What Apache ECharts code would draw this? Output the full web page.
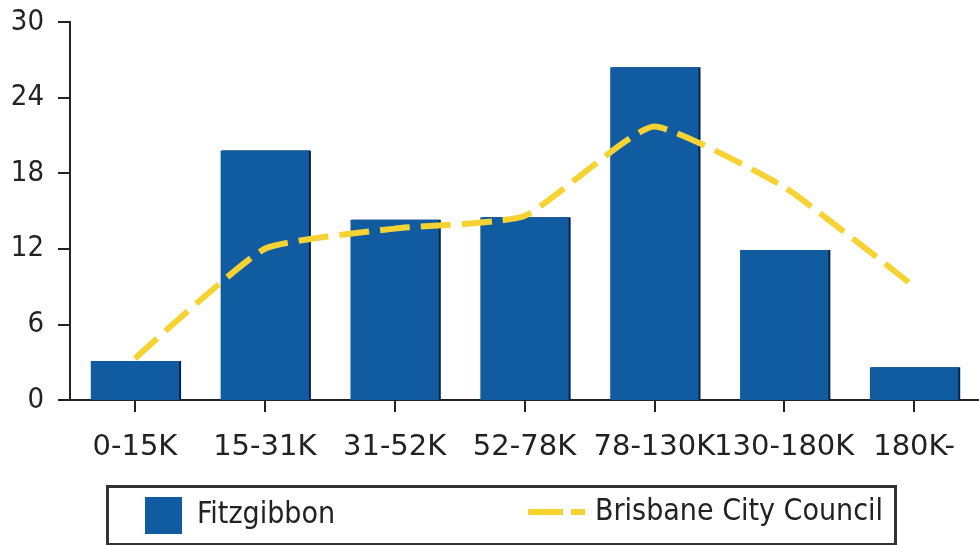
<!DOCTYPE html>
<html>
<head>
<meta charset="utf-8">
<script src="https://cdn.jsdelivr.net/npm/echarts@6/dist/echarts.min.js"></script>
<style>
  html, body { margin: 0; padding: 0; background: #fff; }
  #chart { width: 979px; height: 545px; }
</style>
</head>
<body>
<div id="chart"></div>
<script>
// income bands
const categories = ["0-15K", "15-31K", "31-52K", "52-78K", "78-130K", "130-180K", "180K-"];
// % of households
const fitzgibbon = [3.1, 19.8, 14.3, 14.5, 26.4, 11.9, 2.6];
const brisbane = [3.3, 12.0, 13.6, 14.6, 21.7, 16.9, 9.0];
const yTicks = [0, 6, 12, 18, 24, 30];

const font = "'DejaVu Sans Condensed', 'Liberation Sans Narrow', sans-serif";
const wideFont = "'DejaVu Sans', sans-serif";
const yellow = "#f6d333";

let myChart = echarts.init(document.getElementById("chart"));
let option = {
  animation: false,
  grid: {
    left: 70,
    right: -8,
    top: 22,
    bottom: 145,
    containLabel: false
  },
  legend: [
    {
      data: [{ name: "Fitzgibbon", icon: "rect" }],
      left: 145,
      top: 497,
      padding: 0,
      itemWidth: 37,
      itemHeight: 37,
      textStyle: { fontFamily: font, fontSize: 30, color: "#222", padding: [0, 0, 0, 10] }
    },
    {
      data: ["Brisbane City Council"],
      left: 525,
      top: 497,
      padding: 0,
      itemWidth: 57,
      itemHeight: 37,
      lineStyle: { color: yellow, width: 6, type: [35, 8] },
      itemStyle: { opacity: 0 },
      textStyle: { fontFamily: font, fontSize: 30, color: "#222", padding: [0, 0, 0, 5] }
    }
  ],
  graphic: [
    {
      type: "rect",
      left: 105,
      top: 484,
      shape: { width: 788, height: 58 },
      style: { fill: "none", stroke: "#333", lineWidth: 3 }
    }
  ],
  xAxis: {
    type: "category",
    data: categories,
    axisLine: { lineStyle: { color: "#222", width: 2 } },
    axisTick: { show: true, length: 12, alignWithLabel: true, lineStyle: { color: "#222", width: 2 } },
    axisLabel: {
      interval: 0,
      hideOverlap: false,
      margin: 33,
      fontFamily: wideFont,
      fontSize: 29,
      color: "#222"
    }
  },
  yAxis: {
    type: "value",
    min: yTicks[0],
    max: yTicks[yTicks.length - 1],
    interval: 6,
    axisLine: { show: true, lineStyle: { color: "#222", width: 2 } },
    axisTick: { show: true, length: 12, lineStyle: { color: "#222", width: 2 } },
    splitLine: { show: false },
    axisLabel: {
      margin: 26,
      fontFamily: font,
      fontSize: 29,
      color: "#222"
    }
  },
  series: [
    {
      name: "Fitzgibbon",
      type: "bar",
      barCategoryGap: "32%",
      itemStyle: {
        color: "#115ca0",
        shadowColor: "#0b2347",
        shadowOffsetX: 2,
        shadowBlur: 0
      },
      data: fitzgibbon
    },
    {
      name: "Brisbane City Council",
      type: "line",
      symbol: "none",
      smooth: 0.15,
      z: 5,
      lineStyle: {
        color: yellow,
        width: 6,
        type: [30, 11]
      },
      itemStyle: { color: yellow },
      data: brisbane
    }
  ]
};
myChart.setOption(option);
window.addEventListener("resize", () => { myChart.resize(); });
</script>
</body>
</html>
